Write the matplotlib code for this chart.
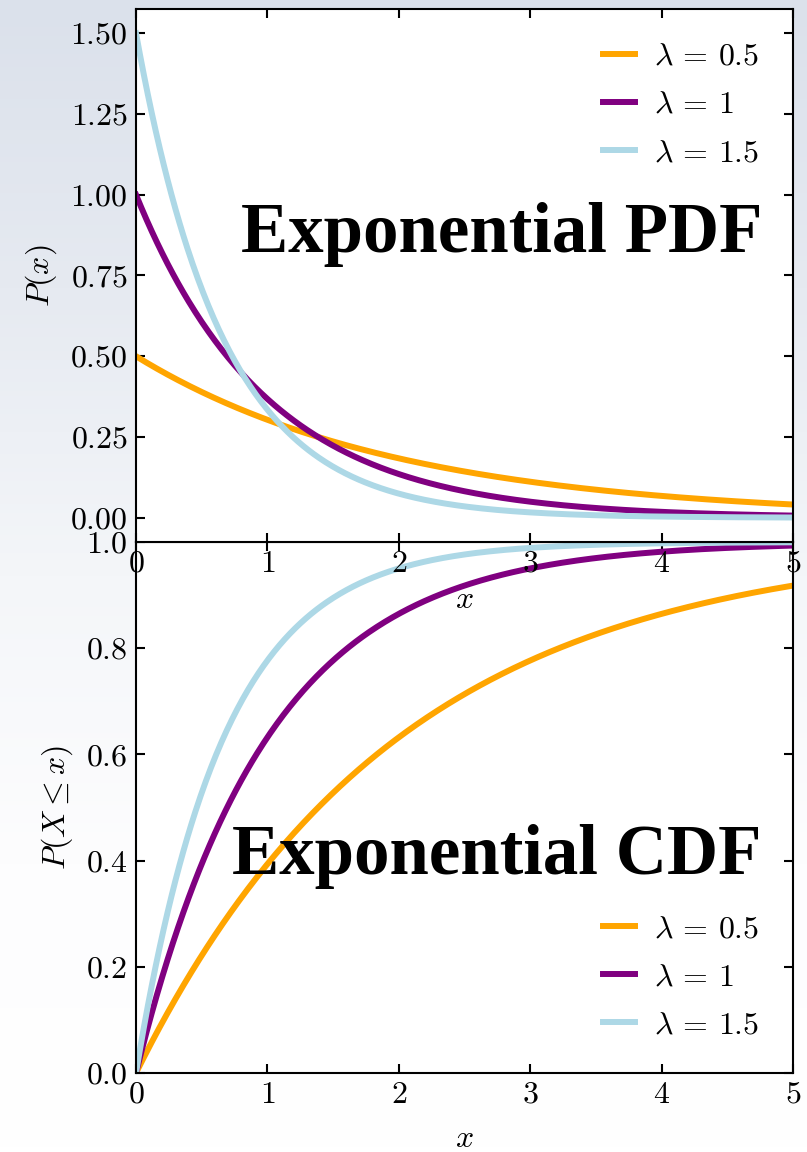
import numpy as np
import matplotlib
matplotlib.use("Agg")
import matplotlib.pyplot as plt
from matplotlib.colors import LinearSegmentedColormap

# ---- data ----
rates = [0.5, 1.0, 1.5]
labels = [r"$\lambda\,=\,0.5$", r"$\lambda\,=\,1$", r"$\lambda\,=\,1.5$"]
colors = ["orange", "purple", "lightblue"]
x_min, x_max = 0.0, 5.0
pdf_yticks = [0.00, 0.25, 0.50, 0.75, 1.00, 1.25, 1.50]
cdf_yticks = [0.0, 0.2, 0.4, 0.6, 0.8, 1.0]
x_ticks = [0, 1, 2, 3, 4, 5]

FS = 23
plt.rcParams.update({
    "font.family": "serif",
    "font.serif": ["cmr10", "DejaVu Serif"],
    "mathtext.fontset": "cm",
    "axes.formatter.use_mathtext": True,
    "axes.unicode_minus": False,
    "font.size": FS,
})

W, H = 807, 1152
fig = plt.figure(figsize=(W / 100, H / 100), dpi=100)

# faded background
bg = fig.add_axes([0, 0, 1, 1], zorder=-10)
grad = np.linspace(0, 1, 256).reshape(-1, 1)
cmap = LinearSegmentedColormap.from_list("bg", ["#dbe1eb", "#e6eaf1", "#f4f6f9", "#fdfdfe", "#ffffff"])
bg.imshow(grad, aspect="auto", cmap=cmap, extent=[0, 1, 0, 1], origin="upper")
bg.axis("off")

left = 136 / W
right = 793 / W
ax1 = fig.add_axes([left, 1 - 542 / H, right - left, (542 - 9) / H])
ax2 = fig.add_axes([left, 1 - 1073 / H, right - left, (1073 - 542) / H])
ax1.set_zorder(3)
ax2.set_zorder(2)

x = np.linspace(x_min, x_max, 500)
for lam, lab, c in zip(rates, labels, colors):
    ax1.plot(x, lam * np.exp(-lam * x), color=c, lw=4.3, label=lab)
    ax2.plot(x, 1 - np.exp(-lam * x), color=c, lw=4.3, label=lab)

for ax in (ax1, ax2):
    ax.set_facecolor("white")
    ax.set_xlim(x_min, x_max)
    ax.set_xticks(x_ticks)
    ax.set_xticklabels([f"${t}$" for t in x_ticks])
    ax.tick_params(direction="in", top=True, right=True, length=6.5, width=1.5, pad=6, labelsize=FS)
    for s in ax.spines.values():
        s.set_linewidth(1.5)

ax1.set_xlabel(r"$x$", fontsize=FS, labelpad=6)
ax2.set_xlabel(r"$x$", fontsize=FS, labelpad=12)

ax1.set_ylim(-0.075, 1.575)
ax1.set_yticks(pdf_yticks)
ax1.set_yticklabels([f"${t:.2f}$" for t in pdf_yticks])
ax1.set_ylabel(r"$P(x)$", fontsize=FS, labelpad=8)

ax2.set_ylim(0, 1.0)
ax2.set_yticks(cdf_yticks)
ax2.set_yticklabels([f"${t:.1f}$" for t in cdf_yticks])
ax2.set_ylabel(r"$P(X \leq x)$", fontsize=FS, labelpad=8)

leg_kw = dict(frameon=False, fontsize=FS, handlelength=1.0, handletextpad=0.6,
              labelspacing=0.62, borderaxespad=0.65)
ax1.legend(loc="upper right", **leg_kw)
ax2.legend(loc="lower right", **leg_kw)

title_kw = dict(fontsize=51, fontweight="bold", family="Liberation Serif",
                ha="center", va="center")
ax1.text(0.556, 0.576, "Exponential PDF", transform=ax1.transAxes, **title_kw)
ax2.text(0.549, 0.408, "Exponential CDF", transform=ax2.transAxes, **title_kw)

fig.savefig("out.png", dpi=100)
